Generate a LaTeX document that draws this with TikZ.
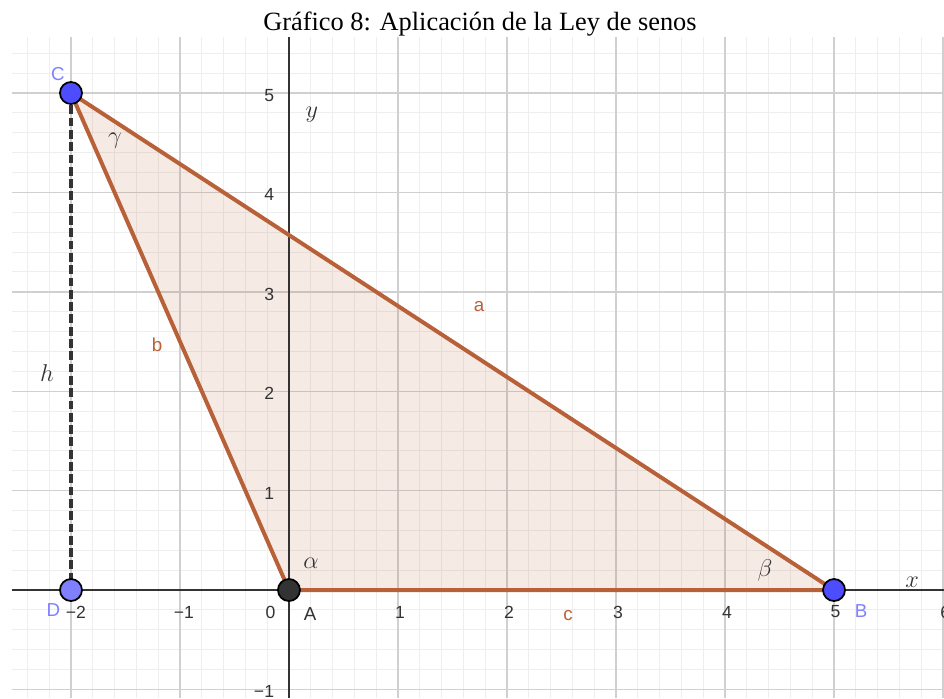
\documentclass[tikz,border=0pt]{standalone}
\usepackage{fontspec}
\setmainfont{Liberation Serif}
\setsansfont{Liberation Sans}
\usetikzlibrary{arrows.meta,positioning}
\definecolor{ggbrown}{RGB}{184,96,56}
\definecolor{ggblue}{RGB}{77,77,255}
\definecolor{gglight}{RGB}{128,128,255}
\definecolor{ggdark}{RGB}{51,51,51}
\definecolor{ggmajor}{RGB}{208,208,208}
\definecolor{ggminor}{RGB}{238,238,238}
\begin{document}
\begin{tikzpicture}[x=3.27cm,y=2.982cm,
 tick/.style={font=\sffamily\fontsize{15}{15}\selectfont,text=ggdark,inner sep=0pt},
 side/.style={font=\sffamily\fontsize{16}{16}\selectfont,text=ggbrown,inner sep=0pt},
 ang/.style={font=\fontsize{22}{22}\selectfont,text=ggdark,inner sep=0pt},
 vtx/.style={circle,draw=black,line width=1.5pt,fill=ggblue,minimum size=0.66cm,inner sep=0pt},
 vlab/.style={font=\sffamily\fontsize{16}{16}\selectfont,text=gglight,inner sep=0pt}]
\useasboundingbox (-2.651,-1.0865) rectangle (6.009,5.9356);
\node[font=\fontsize{22.5}{22.5}\selectfont,anchor=base,inner sep=0pt] (title) at (1.752,5.624) {Gráfico 8: Aplicación de la Ley de senos};
% grid and axes
\draw[ggminor,line width=0.8pt,step=0.2] (-2.541,-1.087) grid (6.009,5.563);
\draw[ggmajor,line width=1.2pt,step=1] (-2.541,-1.087) grid (6.009,5.563);
\coordinate (A) at (0,0);
\coordinate (B) at (5,0);
\coordinate (C) at (-2,5);
\coordinate (D) at (-2,0);
\fill[ggbrown,fill opacity=0.13] (A) -- (B) -- (C) -- cycle;
\draw[ggdark,line width=1.7pt] (-2.541,0) -- (6.009,0);
\draw[ggdark,line width=1.7pt] (0,-1.087) -- (0,5.563);
\foreach \i/\t/\p in {m2/−2/-1.954,m1/−1/-0.963,0/0/-0.170,1/1/1.018,2/2/2.018,3/3/3.018,4/4/4.018,5/5/5.014,6/6/6.02}
  \node[tick] (tx\i) at (\p,-0.221) {\t};
\foreach \j/\t in {-1/−1,1/1,2/2,3/3,4/4,5/5}
  \node[tick,anchor=east] (ty\j) at (-0.135,\j-0.025) {\t};
\node[ang] (xlab) at (5.716,0.08) {$x$};
\node[ang] (ylab) at (0.211,4.78) {$y$};
% triangle
\draw[ggbrown,line width=3.4pt,line join=round] (A) -- (B) -- (C) -- cycle;
\draw[ggdark,line width=3.4pt,dash pattern=on 7.5pt off 3pt] (C) -- (D);
\node[vtx] (Cp) at (C) {};
\node[vtx,fill=gglight] (Dp) at (D) {};
\node[vtx] (Bp) at (B) {};
\node[vtx,fill=ggdark] (Ap) at (A) {};
\node[vlab] (Cl) at (-2.119,5.191) {C};
\node[vlab] (Dl) at (-2.161,-0.201) {D};
\node[vlab,text=ggdark] (Al) at (0.193,-0.246) {A};
\node[vlab] (Bl) at (5.248,-0.211) {B};
\node[side] (la) at (1.743,2.847) {a};
\node[side] (lb) at (-1.211,2.465) {b};
\node[side] (lc) at (2.560,-0.252) {c};
\node[ang] (lg) at (-1.596,4.517) {$\gamma$};
\node[ang] (lal) at (0.202,0.272) {$\alpha$};
\node[ang] (lbe) at (4.367,0.201) {$\beta$};
\node[ang] (lh) at (-2.220,2.183) {$h$};
\end{tikzpicture}
\end{document}
